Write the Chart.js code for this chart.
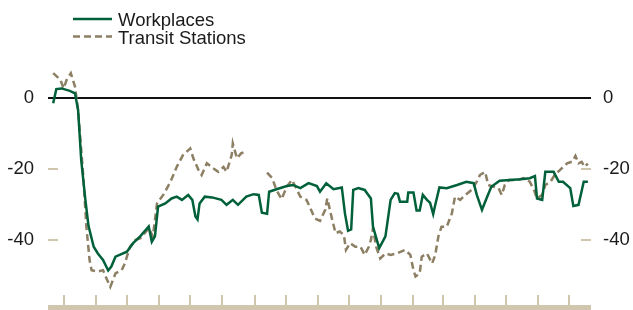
<!DOCTYPE html>
<html>
<head>
<meta charset="utf-8">
<script src="https://cdn.jsdelivr.net/npm/chart.js@4"></script>
<style>
  body { margin: 0; background: #fff; }
  canvas { display: block; }
</style>
</head>
<body>
<canvas id="mobility" width="633" height="310"></canvas>
<script>
// days counted from 15 Feb 2020
const seriesNames = ['Workplaces', 'Transit Stations'];

const workDays = [5,8,13,21,26,29,32,36,39,44, 48,53,58,61,65,69,76,82,89,97,
  100,103,106,113,119,124,129,135,139,142, 144,146,151,158,167,172,178,183,191,198,
  203,206,211,213,220,230,236,243,251,259, 262,268,275,283,286,289,292,294,299,305,
  311,313,319,325,330,334,337,339,346,347, 352,355,358,361,365,368,371,373,377,384,
  394,403,410,413,418,423,427,435,445,455, 464,469,471,476,479,487,492,496,503,506,
  511,516,520];
const workValues = [-1.5,2.5,2.7,2.0,1.3,-3.4,-17.5,-28.7,-36,-41.9, -43.8,-45.6,-48.6,-47.5,-44.7,-44.2,-43.3,-40.9,-38.9,-36.2,
  -40.5,-39,-30.6,-29.7,-28.3,-27.8,-28.7,-27.3,-28.7,-33.4, -34.2,-29.7,-27.8,-28,-28.7,-30.1,-28.7,-30.1,-27.8,-27.1,
  -27.3,-32.3,-32.6,-26.4,-25.7,-24.8,-24.5,-25.4,-24,-24.8, -26.4,-24,-25.7,-25.2,-32.5,-37.4,-37,-25.9,-25.4,-25.9,
  -28.3,-36.2,-42.3,-39,-28.7,-26.8,-27,-29.2,-29.2,-26.6, -26.6,-31.7,-31.7,-27.3,-28.7,-29.5,-32.7,-30.1,-25.2,-25.4,
  -24.5,-23.6,-24,-27.3,-31.5,-27.8,-25,-23.3,-23.1,-22.9, -22.6,-22,-28.3,-28.7,-20.8,-20.8,-23.6,-23.6,-25.4,-30.4,
  -30.1,-23.6,-23.6];

const transitDays = [5,12,15,18,22,26,29,34,37,40, 42,48,53,57,60,65,71,74,79,84,
  89,97,101,105,111,118,124,130,137,140, 145,148,153,159,164,169,172,177,178,182,
  186,190,200,211,216,220,225,230,235,240, 243,249,252,257,262,267,269,273,277,281,
  285,287,291,296,301,305,309,311,313,316, 320,325,330,336,344,349,352,354,358,360,
  365,370,373,376,379,384,389,392,397,402, 408,413,416,421,424,429,434,437,440,444,
  452,458,464,468,471,476,479,484,488,493, 500,505,508,511,514,517,520];
const transitValues = [7,5.1,2.7,5.1,7,3.2,-3.4,-22.2,-36.3,-45.6, -48.5,-48.9,-48.5,-51.3,-53.2,-49.4,-48.5,-46.6,-41.9,-40,
  -39.5,-36.7,-39,-29.7,-27.3,-23.6,-19.4,-16.1,-14.2,-17, -20.3,-21.7,-18.4,-19.8,-20.8,-19.4,-20.8,-16,-12.8,-17,
  -15.6,-15.1,null,-21,-22.6,-25.9,-28.5,-25,-23.1,-26, -27.8,-28.7,-30.6,-33.9,-34.6,-31.5,-28.3,-33.4,-38.1,-37.6,
  -38.6,-42.8,-40.9,-41.9,-41.9,-44.2,-41.9,-40,-36.7,-41.9, -45.2,-43.8,-44.2,-43.8,-42.8,-44.2,-48.5,-50.3,-49.4,-44.7,
  -43.8,-46.6,-44.2,-39,-36.3,-36.3,-32.5,-27.8,-28.7,-27.3, -25.9,-23.6,-21.7,-20.8,-24.5,-25,-25.4,-27.3,-24.5,-23.1,
  -23.1,-22.6,-23.6,-25.9,-28.3,-27.3,-24.5,-23.6,-21.7,-20.3, -18.4,-17.9,-16.3,-18.4,-18,-19.4,-18.5];

// first day of each month, Mar 2020 .. Jul 2021
const monthStartDays = [15,46,76,107,137,168,199,229,260,290,321,352,380,411,441,472,502];
const yTickValues = [-40, -20, 0];

const GREEN = '#00603a';
const TAN = '#8c7f63';
const LIGHT_TAN = '#cfc6ad';
const TEXT = '#1a1a1a';
const FONT = "'Liberation Sans', Arial, sans-serif";

function toPoints(days, values) {
  return days.map((d, i) => ({ x: d, y: values[i] }));
}

const axisMarks = {
  id: 'axisMarks',
  beforeDatasetsDraw(chart) {
    const { ctx, chartArea } = chart;
    const y = chart.scales.y;
    ctx.save();
    ctx.strokeStyle = LIGHT_TAN;
    ctx.lineWidth = 2;
    yTickValues.filter(v => v !== 0).forEach(v => {
      const py = Math.round(y.getPixelForValue(v));
      ctx.beginPath();
      ctx.moveTo(chartArea.left, py); ctx.lineTo(chartArea.left + 10, py);
      ctx.moveTo(chartArea.right - 10, py); ctx.lineTo(chartArea.right, py);
      ctx.stroke();
    });
    ctx.restore();
  },
  afterDraw(chart) {
    const { ctx, chartArea } = chart;
    const x = chart.scales.x;
    ctx.save();
    ctx.fillStyle = LIGHT_TAN;
    ctx.fillRect(chartArea.left, x.top + 10, chartArea.right - chartArea.left, x.bottom - x.top - 10);
    ctx.restore();
  }
};

const legendLines = {
  id: 'legendLines',
  afterDraw(chart) {
    const { ctx } = chart;
    ctx.save();
    chart.data.datasets.forEach((ds, i) => {
      const ly = 19 + i * 17.5;
      ctx.strokeStyle = ds.borderColor;
      ctx.lineWidth = ds.borderWidth;
      ctx.setLineDash(ds.borderDash || []);
      ctx.beginPath();
      ctx.moveTo(73, ly); ctx.lineTo(112, ly);
      ctx.stroke();
      ctx.setLineDash([]);
      ctx.fillStyle = TEXT;
      ctx.font = '18.5px ' + FONT;
      ctx.textBaseline = 'alphabetic';
      ctx.fillText(ds.label, 118, ly + 7);
    });
    ctx.restore();
  }
};

function trimPadding(s) {
  s.paddingTop = 0;
  s.paddingBottom = 0;
}

const yAxisCommon = {
  min: -55.5,
  max: 10,
  afterBuildTicks: s => { s.ticks = yTickValues.map(v => ({ value: v })); },
  border: { display: false },
  ticks: { color: TEXT, font: { family: FONT, size: 18.5 } }
};

new Chart(document.getElementById('mobility').getContext('2d'), {
  type: 'line',
  data: {
    datasets: [
      {
        label: seriesNames[0],
        data: toPoints(workDays, workValues),
        borderColor: GREEN,
        borderWidth: 2.5,
        pointRadius: 0,
        tension: 0
      },
      {
        label: seriesNames[1],
        data: toPoints(transitDays, transitValues),
        borderColor: TAN,
        borderWidth: 2.5,
        borderDash: [7, 4],
        pointRadius: 0,
        tension: 0,
        spanGaps: false
      }
    ]
  },
  options: {
    responsive: false,
    animation: false,
    layout: { padding: { top: 62.5, left: 0, right: 0, bottom: 0 } },
    plugins: { legend: { display: false }, tooltip: { enabled: false } },
    scales: {
      x: {
        type: 'linear',
        min: 0,
        max: 523,
        afterBuildTicks: s => { s.ticks = monthStartDays.map(v => ({ value: v })); },
        afterFit: s => { s.height = 15; s.paddingLeft = 0; s.paddingRight = 0; },
        ticks: { display: false },
        grid: { drawOnChartArea: false, drawTicks: true, tickLength: 10, color: LIGHT_TAN, lineWidth: 2 },
        border: { display: false }
      },
      y: {
        ...yAxisCommon,
        position: 'left',
        afterFit: s => { s.width = 48; trimPadding(s); },
        ticks: { ...yAxisCommon.ticks, padding: 14 },
        grid: {
          drawTicks: false,
          lineWidth: 2,
          color: c => (c.tick && c.tick.value === 0 ? '#111' : 'rgba(0,0,0,0)')
        }
      },
      y2: {
        ...yAxisCommon,
        position: 'right',
        afterFit: s => { s.width = 42; trimPadding(s); },
        ticks: { ...yAxisCommon.ticks, padding: 12 },
        grid: { drawOnChartArea: false, drawTicks: false }
      }
    }
  },
  plugins: [axisMarks, legendLines]
});
</script>
</body>
</html>
